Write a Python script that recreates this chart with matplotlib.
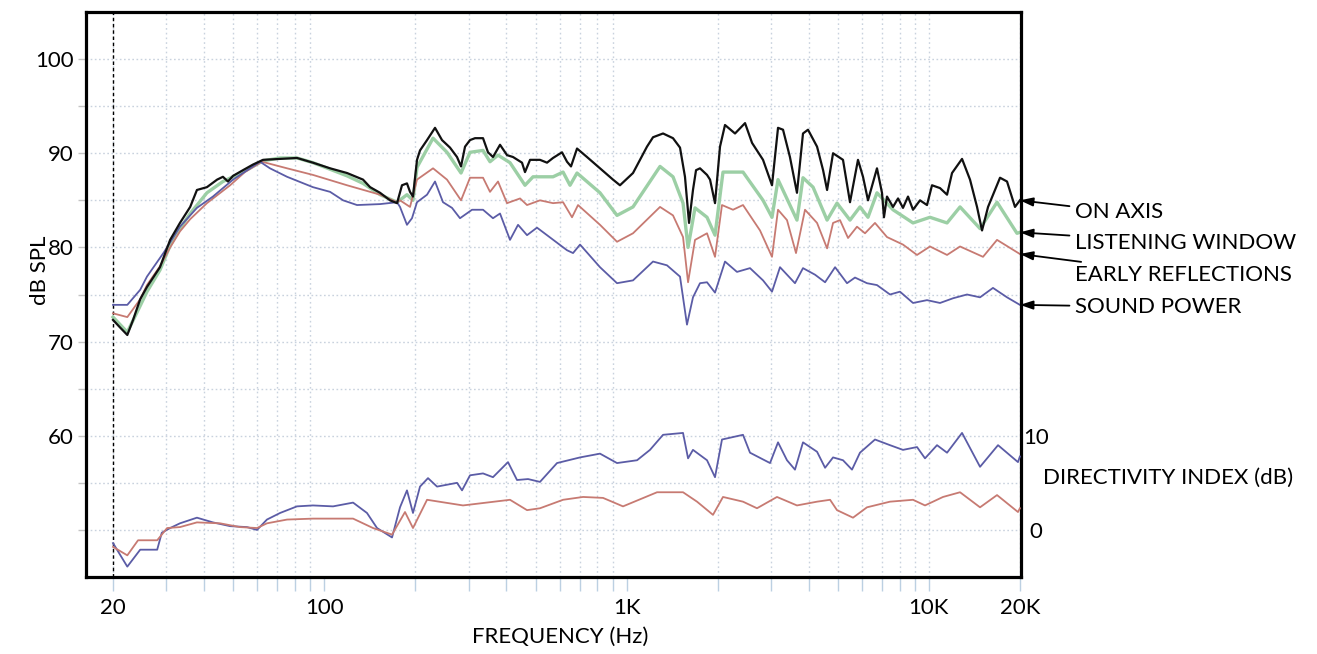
import numpy as np
import matplotlib
matplotlib.use("Agg")
import matplotlib.pyplot as plt
from matplotlib.ticker import FixedLocator, NullFormatter

plt.rcParams['font.family'] = ['Lato', 'DejaVu Sans']

# ---------------- data (Hz, dB SPL) ----------------
on_axis_f = [20, 21.1, 22.3, 23.3, 24.6, 25.9, 28.6, 30.9, 33.3, 36.0, 37.9, 40.9, 44.2, 46.2, 48.0,
             49.9, 53.8, 58.1, 62.7, 71.4, 81.2, 91.7, 104.5, 118.9, 134.3, 141.7, 152.9, 165, 174,
             180.7, 187.7, 192.1, 196.5, 202.6, 207.3, 218.7, 232.4, 245.1, 260.5, 274.8, 283.3,
             292.1, 303.4, 315.2, 335, 348, 361.4, 381.3, 402.2, 421, 450.8, 461.2, 479.3, 517,
             545.4, 571, 611.4, 635.2, 654.8, 685.5, 739.6, 816.6, 901.6, 950.8, 1050, 1168, 1223,
             1320, 1424, 1502, 1560, 1609, 1658, 1697, 1749, 1845, 1888, 1961, 2037, 2116, 2284,
             2465, 2600, 2827, 3027, 3169, 3292, 3470, 3661, 3833, 3982, 4266, 4467, 4605, 4819,
             5198, 5483, 5827, 6054, 6289, 6734, 6996, 7102, 7268, 7608, 7906, 8209, 8530, 8861,
             9346, 9857, 10240, 10884, 11483, 11928, 12872, 13679, 14430, 14990, 15692, 17192,
             18133, 19268, 20000]
on_axis_db = [72.3, 71.5, 70.7, 72.3, 74.5, 75.8, 77.9, 80.8, 82.6, 84.3, 86.1, 86.4, 87.2, 87.5, 87.0,
              87.6, 88.2, 88.8, 89.3, 89.4, 89.5, 89.0, 88.4, 87.9, 87.2, 86.4, 85.8, 85.0, 84.7,
              86.6, 86.8, 85.9, 85.4, 89.3, 90.3, 91.4, 92.7, 91.4, 90.6, 89.6, 88.6,
              90.7, 91.4, 91.6, 91.6, 90.1, 89.6, 90.9, 89.8, 89.6, 89.0, 88.0, 89.3, 89.3,
              89.0, 89.5, 90.1, 89.1, 88.6, 90.5, 89.6, 88.4, 87.2, 86.6, 87.9, 90.7, 91.7,
              92.1, 91.6, 90.6, 87.5, 82.6, 86.1, 88.2, 88.4, 87.7, 87.2, 84.7, 90.7, 93.0, 92.1,
              93.2, 91.1, 89.3, 86.6, 92.7, 92.5, 89.6, 85.8, 92.1, 92.5, 90.7, 88.2, 86.1, 90.0,
              89.3, 84.8, 89.3, 87.5, 85.0, 88.4, 85.8, 83.2, 85.4, 84.3, 85.2, 84.2, 85.4, 84.0,
              85.0, 84.5, 86.6, 86.3, 85.6, 87.9, 89.4, 87.2, 84.3, 81.8, 84.3, 87.4,
              87.0, 84.3, 85.0]

listening_f = [20, 22.3, 24.6, 25.9, 28.6, 30.9, 33.3, 36.0, 40.9, 46.2, 53.8, 62.7, 71.4, 81.2, 91.7,
               104.5, 118.9, 134.3, 152.9, 174, 187.7, 196.5, 202.6, 228.9, 254.6, 283.3, 303.4, 335,
               353.3, 375.5, 411.4, 461.2, 490.3, 571, 616.3, 649.9, 685.5, 816.6, 929.6, 1050, 1290,
               1424, 1537, 1597, 1684, 1845, 1961, 2084, 2427, 2827, 3027, 3169, 3661, 3833, 4138,
               4605, 4966, 5483, 5916, 6289, 6734, 7608, 8861, 10084, 11483, 12678, 14764, 16803,
               19562, 20000]
listening_db = [72.6, 71.0, 73.8, 75.3, 77.6, 80.2, 82.0, 83.6, 85.8, 87.0, 88.0, 89.2, 89.5, 89.5, 89.0,
                88.3, 87.6, 86.8, 85.6, 84.8, 85.6, 85.0, 88.5, 91.6, 90.1, 87.9, 90.1, 90.3,
                89.1, 89.8, 89.0, 86.6, 87.5, 87.5, 88.0, 86.6, 87.9, 85.8, 83.4, 84.3, 88.6,
                87.5, 84.7, 80.0, 84.2, 83.2, 81.3, 88.0, 88.0, 85.0, 83.2, 87.2, 82.9, 87.4, 86.4,
                82.9, 84.7, 82.9, 84.3, 83.2, 85.8, 84.0, 82.6, 83.2, 82.6, 84.3, 82.0, 84.8,
                81.5, 81.6]

early_f = [20, 22.3, 24.6, 25.9, 28.6, 30.9, 33.3, 36.0, 40.9, 48.8, 54.6, 62.2, 75.3, 91.7, 118.9,
           152.9, 174, 178, 192.1, 202.6, 228.9, 254.6, 283.3, 303.4, 335, 353.3, 375.5, 402.2,
           444.2, 468.4, 517, 571, 616.3, 659.9, 690.7, 816.6, 929.6, 1050, 1290, 1424, 1537, 1597,
           1684, 1845, 1961, 2068, 2249, 2427, 2763, 3027, 3169, 3393, 3634, 3892, 4266, 4605,
           4819, 5081, 5402, 5783, 6147, 6633, 7268, 8209, 9135, 10084, 11483, 12678, 15104,
           16803, 20000]
early_db = [73.0, 72.6, 74.5, 76.0, 78.0, 80.0, 81.7, 83.0, 84.7, 86.6, 88.0, 89.1, 88.4, 87.7, 86.6,
            85.6, 84.8, 85.0, 84.3, 87.2, 88.4, 87.2, 85.0, 87.4, 87.4, 85.9, 87.0, 84.7,
            85.2, 84.5, 85.0, 84.7, 84.8, 83.2, 84.5, 82.4, 80.6, 81.5, 84.3, 83.4, 81.1, 76.3,
            80.8, 81.5, 79.0, 84.5, 84.0, 84.5, 81.8, 79.0, 84.0, 82.9, 79.4, 84.0, 82.6, 79.9,
            82.6, 82.9, 81.0, 82.2, 81.5, 82.6, 81.1, 80.3, 79.2, 80.1, 79.2, 80.1, 79.0,
            80.8, 79.3]

power_f = [20, 22.3, 24.6, 25.9, 29.5, 33.3, 37.9, 42.8, 49.9, 61.3, 66.1, 75.3, 91.7, 104.5, 115.4,
           128.3, 152.9, 174, 178, 187.7, 195.0, 202.6, 218.7, 232.4, 247, 264.5, 281.1, 308.1,
           335, 361.4, 381.3, 411.4, 437.4, 468.4, 505.3, 545.4, 588.6, 635.2, 665, 701.4, 816.6,
           929.6, 1050, 1223, 1360, 1502, 1584, 1658, 1749, 1845, 1961, 2116, 2318, 2560, 2827,
           3027, 3217, 3606, 3833, 4202, 4535, 4894, 5360, 5696, 6240, 6734, 7436, 8024, 8861,
           9857, 10884, 12018, 13368, 14764, 16293, 18133, 20000]
power_db = [73.9, 73.9, 75.5, 76.9, 79.5, 82.2, 84.2, 85.4, 87.2, 89.1, 88.4, 87.5, 86.4, 85.9, 85.0,
            84.5, 84.6, 84.8, 84.3, 82.4, 83.1, 84.8, 85.6, 87.0, 84.8, 84.2, 83.1, 84.0,
            84.0, 83.1, 83.6, 80.8, 82.4, 81.3, 82.1, 81.3, 80.5, 79.7, 79.4, 80.3, 77.9,
            76.2, 76.5, 78.5, 78.1, 76.9, 71.8, 74.7, 76.2, 76.3, 75.2, 78.5, 77.4, 77.8, 76.5,
            75.3, 77.9, 76.2, 77.8, 77.1, 76.3, 77.9, 76.2, 76.8, 76.2, 76.0, 75.0, 75.3, 74.1,
            74.4, 74.1, 74.6, 75.0, 74.7, 75.7, 74.7, 73.9]

# directivity indices (dB)
sp_di_f = [20, 22.3, 24.6, 28.0, 29.0, 30.9, 33.3, 37.9, 42.8, 48.8, 55.5, 59.9, 64.6, 71.4, 81.2,
           91.7, 106.9, 124.5, 138.4, 149.4, 167.5, 178, 187.7, 196.5, 207.3, 220.3, 236, 274.8,
           285.5, 303.4, 335, 361.4, 405.2, 434, 472, 517, 588.6, 701.4, 816.6, 929.6, 1083, 1195,
           1320, 1537, 1597, 1658, 1845, 1961, 2068, 2427, 2560, 2982, 3169, 3393, 3606, 3833,
           4266, 4535, 4819, 5198, 5567, 5916, 6633, 7436, 8209, 9135, 9709, 10638, 11483, 12872,
           14764, 16932, 19712, 20000]
sp_di_db = [-1.4, -3.9, -2.1, -2.1, -0.3, 0.2, 0.7, 1.3, 0.8, 0.4, 0.3, 0.0, 1.1, 1.8, 2.5,
            2.6, 2.5, 2.9, 1.8, 0.2, -0.8, 2.4, 4.2, 1.8, 4.6, 5.5, 4.6, 5.0,
            4.2, 5.8, 6.0, 5.6, 7.2, 5.3, 5.4, 5.1, 7.1, 7.7, 8.1, 7.1, 7.4, 8.5,
            10.1, 10.3, 7.6, 8.5, 7.4, 5.6, 9.6, 10.1, 8.2, 7.1, 9.3, 7.4, 6.4, 9.3,
            8.3, 6.6, 7.7, 7.4, 6.4, 8.2, 9.6, 9.0, 8.5, 8.8, 7.6, 9.0, 8.2, 10.3,
            6.7, 9.0, 7.2, 7.8]

er_di_f = [20, 22.3, 24.2, 28.0, 30.2, 33.3, 37.9, 45.2, 52.6, 59.9, 64.6, 75.3, 91.7, 124.5, 144.9,
           167.5, 184.9, 196.5, 218.7, 287.6, 411.4, 468.4, 517, 616.3, 717.7, 835.6, 973, 1261,
           1537, 1710, 1931, 2084, 2427, 2700, 3144, 3661, 4266, 4711, 4966, 5610, 6240, 7436,
           8861, 9709, 11135, 12678, 14764, 16803, 19712, 20000]
er_di_db = [-1.8, -2.7, -1.1, -1.1, 0.2, 0.3, 0.8, 0.7, 0.3, 0.2, 0.7, 1.1, 1.2, 1.2, 0.2,
            -0.5, 1.9, 0.2, 3.2, 2.6, 3.2, 2.1, 2.3, 3.2, 3.5, 3.4, 2.5, 4.0,
            4.0, 3.0, 1.6, 3.5, 3.0, 2.3, 3.5, 2.6, 3.0, 3.2, 2.1, 1.3, 2.4, 3.0,
            3.2, 2.6, 3.5, 4.0, 2.4, 3.7, 1.9, 2.3]

series_labels = ["ON AXIS", "LISTENING WINDOW", "EARLY REFLECTIONS", "SOUND POWER"]
x_tick_values = [20, 100, 1000, 10000, 20000]
x_tick_labels = ["20", "100", "1K", "10K", "20K"]
y_tick_values = [50, 55, 60, 65, 70, 75, 80, 85, 90, 95, 100]
y_tick_labels = ["", "", "60", "", "70", "", "80", "", "90", "", "100"]
di_tick_values = [0, 10]
di_tick_labels = ["0", "10"]

# ---------------- styling ----------------
C_ON = "#111111"
C_LW = "#9ccfa5"
C_ER = "#c77a72"
C_SP = "#5b5ca6"
GRID = "#c9d2de"
FS = 16

W, H = 1317, 654
fig = plt.figure(figsize=(W / 100, H / 100), dpi=100)
ax = fig.add_axes([86 / W, 1 - 577 / H, (1021 - 86) / W, (577 - 12) / H])

ax.set_xscale("log")
ax.set_xlim(16.28, 20170)
ax.set_ylim(45, 105)

# grid
minor_grid = [v * m for m in (10, 100, 1000) for v in range(2, 10)] + [10000, 20000]
for gx in minor_grid:
    ax.axvline(gx, color=GRID, lw=1.0, ls=(0, (1.2, 2.2)), zorder=0)
for gy in y_tick_values:
    ax.axhline(gy, color=GRID, lw=1.0, ls=(0, (1.2, 1.8)), zorder=0)

ax.axvline(20, color="black", lw=1.0, ls=(0, (2.5, 2)), zorder=1)

ax.plot(listening_f, listening_db, color=C_LW, lw=2.4, zorder=2)
ax.plot(early_f, early_db, color=C_ER, lw=1.3, zorder=3)
ax.plot(power_f, power_db, color=C_SP, lw=1.3, zorder=3)
ax.plot(on_axis_f, on_axis_db, color=C_ON, lw=1.6, zorder=4)

# ticks
ax.xaxis.set_major_locator(FixedLocator(x_tick_values))
ax.set_xticklabels(x_tick_labels)
ax.xaxis.set_minor_locator(FixedLocator(minor_grid))
ax.xaxis.set_minor_formatter(NullFormatter())
ax.tick_params(axis="x", which="both", length=10, width=1, color="#bcd0e2", pad=5, labelsize=FS)
ax.set_yticks(y_tick_values)
ax.set_yticklabels(y_tick_labels)
ax.tick_params(axis="y", which="both", length=6, width=1, color="#c4c4c4", pad=3, labelsize=FS)

for s in ax.spines.values():
    s.set_linewidth(2.3)
    s.set_color("black")
    s.set_zorder(10)

# directivity index axis
ax2 = ax.twinx()
ax2.set_ylim(45 - 50, 105 - 50)
ax2.plot(sp_di_f, sp_di_db, color=C_SP, lw=1.3)
ax2.plot(er_di_f, er_di_db, color=C_ER, lw=1.3)
ax2.set_yticks(di_tick_values)
ax2.set_yticklabels(di_tick_labels)
ax2.tick_params(axis="y", length=0, pad=11, labelsize=FS)
for lab in ax2.get_yticklabels():
    lab.set_horizontalalignment("center")
for s in ax2.spines.values():
    s.set_visible(False)

fig.text(1043 / W, 1 - 478 / H, "DIRECTIVITY INDEX (dB)", fontsize=FS, ha="left", va="center")

# axis labels
fig.text(40 / W, 1 - 270 / H, "dB SPL", fontsize=FS, rotation=90, ha="center", va="center")
fig.text(560 / W, 1 - 637 / H, "FREQUENCY (Hz)", fontsize=FS, ha="center", va="center")

# series annotations with arrows pointing to curve ends
ends = [(on_axis_f[-1], on_axis_db[-1]), (listening_f[-1], listening_db[-1]),
        (early_f[-1], early_db[-1]), (power_f[-1], power_db[-1])]
text_y = [212, 243, 275, 307]
for lab, (fx, fy), ty in zip(series_labels, ends, text_y):
    ax.annotate(lab, xy=(fx, fy), xycoords="data",
                xytext=(1075 / W, 1 - ty / H), textcoords="figure fraction",
                ha="left", va="center", fontsize=FS, annotation_clip=False,
                arrowprops=dict(arrowstyle="-|>,head_length=0.6,head_width=0.2",
                                color="black", lw=1.3, shrinkA=2, shrinkB=0,
                                mutation_scale=13))

fig.savefig("out.png", dpi=100)
